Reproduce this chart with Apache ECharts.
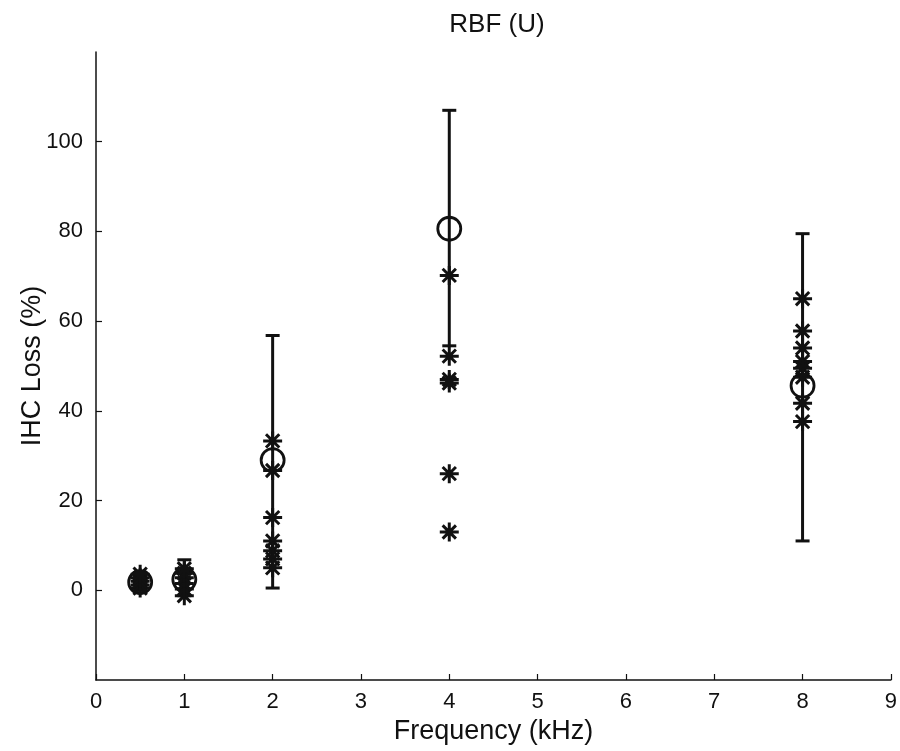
<!DOCTYPE html>
<html>
<head>
<meta charset="utf-8">
<script src="https://cdn.jsdelivr.net/npm/echarts@6/dist/echarts.min.js"></script>
<style>
html,body{margin:0;padding:0;background:#fff;}
#c{width:900px;height:751px;}
</style>
</head>
<body>
<div id="c"></div>
<script>
// Group means (open circles) and error bars
const meanFreq = [0.5, 1, 2, 4, 8];
const meanLoss = [1.8, 2.4, 29.0, 80.6, 45.6];
const errLow   = [0.3, -1.2, 0.5, 54.5, 11.0];
const errHigh  = [3.2, 6.8, 56.8, 107.0, 79.5];

// Individual values (asterisks)
const starFreq = [
  0.5, 0.5, 0.5, 0.5, 0.5,
  1, 1, 1, 1, 1, 1,
  2, 2, 2, 2, 2, 2, 2,
  4, 4, 4, 4, 4, 4,
  8, 8, 8, 8, 8, 8, 8, 8
];
const starLoss = [
  0.5, 1.2, 2.0, 2.8, 3.6,
  -1.2, 0.3, 1.5, 2.8, 3.8, 4.8,
  33.3, 26.7, 16.2, 11.0, 8.8, 7.0, 5.0,
  70.2, 52.2, 47.0, 46.2, 26.0, 13.0,
  65.0, 57.8, 54.0, 51.0, 49.5, 47.5, 41.7, 37.6
];

const xTicks = [0,1,2,3,4,5,6,7,8,9];
const yTickLabels = [0, 20, 40, 60, 80, 100];

const FONT = '"Liberation Sans", Arial, Helvetica, sans-serif';
const INK = '#111';

const errData = meanFreq.map((f, i) => [f, errLow[i], errHigh[i]]);
const meanData = meanFreq.map((f, i) => [f, meanLoss[i]]);
const starData = starFreq.map((f, i) => [f, starLoss[i]]);

const chart = echarts.init(document.getElementById('c'), null, {renderer: 'canvas'});
chart.setOption({
  backgroundColor: '#fff',
  animation: false,
  title: {
    text: 'RBF (U)',
    left: 492, textAlign: 'center',
    top: 7,
    textStyle: {fontFamily: FONT, fontSize: 26, fontWeight: 'normal', color: INK}
  },
  grid: {left: 96, right: 9, top: 52, bottom: 71},
  xAxis: {
    type: 'value', min: 0, max: 9, interval: 1,
    name: 'Frequency (kHz)', nameLocation: 'middle', nameGap: 38,
    nameTextStyle: {fontFamily: FONT, fontSize: 27, color: INK},
    axisLine: {show: true, onZero: false, lineStyle: {color: INK, width: 1.5}},
    axisTick: {show: true, inside: true, length: 6, lineStyle: {color: INK, width: 1.2}},
    axisLabel: {fontFamily: FONT, fontSize: 22, color: INK, margin: 11},
    splitLine: {show: false}
  },
  yAxis: {
    type: 'value', min: -20, max: 120, interval: 20,
    name: 'IHC Loss (%)', nameLocation: 'middle', nameGap: 50, nameRotate: 90,
    nameMoveOverlap: false,
    nameTextStyle: {fontFamily: FONT, fontSize: 27, color: INK},
    axisLine: {show: true, onZero: false, lineStyle: {color: INK, width: 1.5}},
    axisTick: {show: true, inside: true, length: 6, customValues: yTickLabels, lineStyle: {color: INK, width: 1.2}},
    axisLabel: {fontFamily: FONT, fontSize: 22, color: INK, margin: 13, customValues: yTickLabels},
    splitLine: {show: false}
  },
  series: [
    {
      type: 'custom',
      data: errData,
      z: 2,
      renderItem: function (params, api) {
        const x = api.value(0);
        const lo = api.coord([x, api.value(1)]);
        const hi = api.coord([x, api.value(2)]);
        const hw = 7;
        const st = {stroke: INK, lineWidth: 3, fill: null};
        return {
          type: 'group',
          children: [
            {type: 'line', shape: {x1: lo[0], y1: lo[1], x2: hi[0], y2: hi[1]}, style: st},
            {type: 'line', shape: {x1: lo[0]-hw, y1: lo[1], x2: lo[0]+hw, y2: lo[1]}, style: st},
            {type: 'line', shape: {x1: hi[0]-hw, y1: hi[1], x2: hi[0]+hw, y2: hi[1]}, style: st}
          ]
        };
      }
    },
    {
      type: 'scatter',
      data: meanData,
      z: 3,
      symbol: 'circle',
      symbolSize: 23,
      itemStyle: {color: 'rgba(0,0,0,0)', borderColor: INK, borderWidth: 2.8, opacity: 1}
    },
    {
      type: 'scatter',
      data: starData,
      z: 4,
      symbol: 'path://M10,0 L10,20 M0,10 L20,10 M3,3 L17,17 M3,17 L17,3',
      symbolSize: 19,
      itemStyle: {color: 'rgba(0,0,0,0)', borderColor: INK, borderWidth: 3, opacity: 1}
    }
  ]
});
</script>
</body>
</html>
